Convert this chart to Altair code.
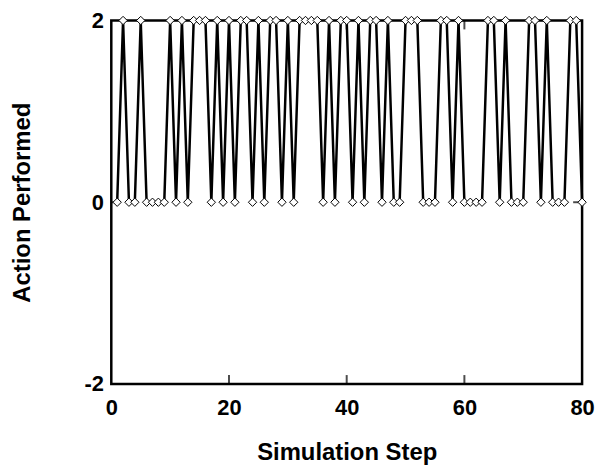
import altair as alt
import pandas as pd

steps = list(range(1, 81))
actions = [
    0, 2, 0, 0, 2, 0, 0, 0, 0, 2,
    0, 2, 0, 2, 2, 2, 0, 2, 0, 2,
    0, 2, 2, 0, 2, 0, 2, 2, 0, 2,
    0, 2, 2, 2, 2, 0, 2, 0, 2, 2,
    0, 2, 0, 2, 2, 0, 2, 0, 0, 2,
    2, 2, 0, 0, 0, 2, 2, 0, 2, 0,
    0, 0, 0, 2, 2, 0, 2, 0, 0, 0,
    2, 2, 0, 2, 0, 0, 0, 2, 2, 0,
]
x_ticks = [0, 20, 40, 60, 80]
y_ticks = [-2, 0, 2]

df = pd.DataFrame({"step": steps, "action": actions})
xt = pd.DataFrame({"t": x_ticks[1:-1]})
yt = pd.DataFrame({"t": y_ticks[1:-1]})

FONT = "Liberation Sans"

xscale = alt.Scale(domain=[0, 80], nice=False, zero=False)
yscale = alt.Scale(domain=[-2, 2], nice=False, zero=False)

xaxis = alt.Axis(values=x_ticks, ticks=False, domain=False, grid=False,
                 labelExpr="'' + datum.value",
                 labelFont=FONT, labelFontWeight="bold", labelFontSize=22,
                 labelColor="black", labelPadding=14, title="Simulation Step",
                 titleFont=FONT, titleFontWeight="bold", titleFontSize=24,
                 titleColor="black", titlePadding=22, labelFlush=False)
yaxis = alt.Axis(values=y_ticks, ticks=False, domain=False, grid=False,
                 labelExpr="'' + datum.value",
                 labelFont=FONT, labelFontWeight="bold", labelFontSize=22,
                 labelColor="black", labelPadding=8, title="Action Performed",
                 titleFont=FONT, titleFontWeight="bold", titleFontSize=24,
                 titleColor="black", titlePadding=50, labelFlush=False)

base = alt.Chart(df)
line = base.mark_line(color="black", strokeWidth=2.5, clip=False).encode(
    x=alt.X("step:Q", scale=xscale, axis=xaxis),
    y=alt.Y("action:Q", scale=yscale, axis=yaxis),
)
pts = base.mark_point(shape="diamond", filled=True, fill="white", stroke="black",
                      strokeWidth=1, size=70, opacity=1).encode(
    x=alt.X("step:Q", scale=xscale),
    y=alt.Y("action:Q", scale=yscale),
)
bticks = alt.Chart(xt).mark_tick(color="black", thickness=2, size=9, yOffset=-4.5).encode(
    x=alt.X("t:Q", scale=xscale), y=alt.value("height"))
tticks = alt.Chart(xt).mark_tick(color="black", thickness=2, size=9, yOffset=4.5).encode(
    x=alt.X("t:Q", scale=xscale), y=alt.value(0))
lticks = alt.Chart(yt).mark_tick(color="black", thickness=2, size=9, xOffset=4.5).encode(
    y=alt.Y("t:Q", scale=yscale), x=alt.value(0))
rticks = alt.Chart(yt).mark_tick(color="black", thickness=2, size=9, xOffset=-4.5).encode(
    y=alt.Y("t:Q", scale=yscale), x=alt.value("width"))

chart = alt.layer(bticks, tticks, lticks, rticks, line, pts).properties(
    width=591, height=458,
    background="white",
    padding={"left": 2, "top": 0, "right": 0, "bottom": 0},
    autosize=alt.AutoSizeParams(type="fit", contains="padding"),
).configure_view(stroke="black", strokeWidth=2.5)

chart.save("out.html", embed_options={"renderer": "svg", "actions": False})
